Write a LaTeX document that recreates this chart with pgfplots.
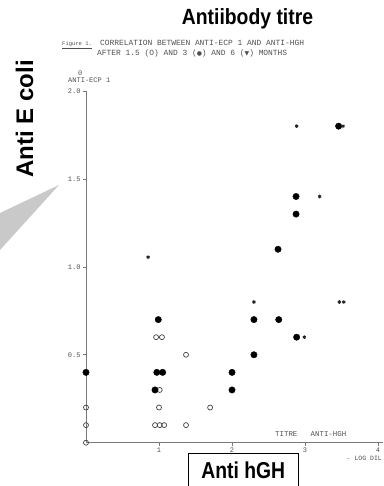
\documentclass[border=0pt]{standalone}
\usepackage{pgfplots}
\pgfplotsset{compat=1.18}
\usepackage{fontspec}
\setmainfont{Liberation Sans}
\setmonofont{Liberation Mono}
\newfontfamily\symfont{DejaVu Sans}
\definecolor{scan}{RGB}{80,80,80}
\definecolor{axisgray}{RGB}{120,120,120}
\begin{document}
\begin{tikzpicture}[x=1pt,y=1pt]
\path[use as bounding box] (0,0) rectangle (383,486);
% grey callout wedge
\fill[gray!42] (0,273) -- (59,301) -- (0,236) -- cycle;
\begin{axis}[
  at={(86pt,43.3pt)}, anchor=south west,
  scale only axis, width=297pt, height=351.7pt,
  xmin=0, xmax=4.068, ymin=0, ymax=2,
  axis x line*=bottom, axis y line*=left,
  axis line style={axisgray, line width=0.9pt},
  xtick={1,2,3,4}, xticklabels={1,2,3,4},
  ytick={0.5,1,1.5,2}, yticklabels={0.5,1.0,1.5,2.0},
  tick align=outside, major tick length=3pt,
  tick style={axisgray, line width=0.6pt},
  tick label style={font=\fontsize{7}{7}\selectfont\ttfamily, text=scan},
  xticklabel style={yshift=1pt},
  yticklabel style={xshift=1pt},
  clip=false,
]
% 1.5 months (open circles)
\addplot[only marks, mark=o, mark size=2.5pt, mark options={draw=black!75, line width=0.7pt}] coordinates {
 (0,0) (0,0.1) (0,0.2)
 (0.96,0.6) (1.04,0.6) (1.01,0.3) (1.0,0.2)
 (0.945,0.1) (1.01,0.1) (1.07,0.1)
 (1.37,0.5) (1.37,0.1) (1.70,0.2)
};
% 3 months (filled circles)
\addplot[only marks, mark=*, mark size=3.2pt, mark options={fill=black, draw=black}] coordinates {
 (0,0.4) (0.99,0.7) (0.97,0.4) (1.05,0.4) (0.945,0.3)
 (2.0,0.4) (2.0,0.3) (2.3,0.5) (2.3,0.7) (2.64,0.7) (2.885,0.6)
 (2.63,1.1) (2.877,1.3) (2.877,1.4) (3.46,1.8)
};
% 6 months (stars)
\addplot[only marks, mark=asterisk, mark size=1.8pt, mark options={draw=black!85, line width=0.9pt}] coordinates {
 (0.85,1.055) (2.3,0.8) (3.47,0.8) (3.53,0.8) (2.99,0.6)
 (3.2,1.4) (2.885,1.8) (3.52,1.8)
};
\end{axis}
% overlay texts
\node[anchor=base, inner sep=0] at (247.5,461) {\scalebox{0.88}[1]{\fontsize{22}{22}\selectfont\bfseries Antiibody titre}};
\node[rotate=90, anchor=base, inner sep=0] at (33,367) {\fontsize{24}{24}\selectfont\bfseries Anti E coli};
\draw[black, line width=0.8pt] (188.3,-3) -- (188.3,32.7) -- (298.3,32.7) -- (298.3,-3);
\node[anchor=base, inner sep=0] at (243.3,7) {\scalebox{0.84}[1]{\fontsize{23}{23}\selectfont\bfseries Anti hGH}};
% caption of the scanned figure
\node[anchor=base west, inner sep=0, text=scan] at (62,440) {\fontsize{5.5}{6}\selectfont\ttfamily\underline{Figure 1.}};
\node[anchor=base west, inner sep=0, text=scan] at (100,440) {\fontsize{7.9}{8}\selectfont\ttfamily CORRELATION BETWEEN ANTI-ECP 1 AND ANTI-HGH};
\node[anchor=base west, inner sep=0, text=scan] at (97,430) {\fontsize{7.9}{8}\selectfont\ttfamily AFTER 1.5 (O) AND 3 ({\symfont\fontsize{6}{6}\selectfont ●})  AND 6 ({\symfont\fontsize{6}{6}\selectfont ▼}) MONTHS};
\node[anchor=base west, inner sep=0, text=scan] at (78,410) {\fontsize{7}{7}\selectfont\ttfamily 0};
\node[anchor=base west, inner sep=0, text=scan] at (68,403) {\fontsize{7}{7}\selectfont\ttfamily ANTI-ECP 1};
\node[anchor=base west, inner sep=0, text=scan] at (275,49) {\fontsize{7.4}{7}\selectfont\ttfamily TITRE\ \ \ ANTI-HGH};
\node[anchor=base east, inner sep=0, text=scan] at (382,25.5) {\fontsize{6.5}{7}\selectfont\ttfamily - LOG DIL};
\end{tikzpicture}
\end{document}
